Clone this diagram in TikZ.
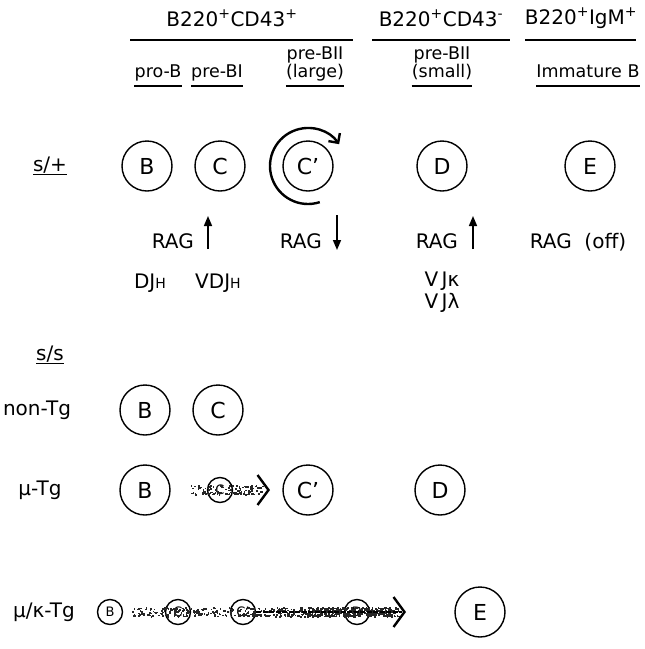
\documentclass[tikz,border=0pt]{standalone}
\usepackage{fontspec}
\setmainfont{DejaVu Sans}
\usetikzlibrary{arrows.meta}

\begin{document}
\begin{tikzpicture}[x=1pt, y=-1pt,
    cell/.style={circle, draw, line width=1.4pt, minimum size=50pt, inner sep=0pt, font=\fontsize{22}{22}\selectfont},
    minicell/.style={circle, draw, line width=1.4pt, minimum size=25pt, inner sep=0pt, font=\fontsize{13}{13}\selectfont},
    head/.style={font=\fontsize{20}{24}\selectfont, inner sep=0pt},
    stage/.style={font=\fontsize{17.5}{16.5}\selectfont, align=center, inner sep=0pt},
    rowlabel/.style={font=\fontsize{20}{22}\selectfont, inner sep=0pt},
    rag/.style={font=\fontsize{20}{22}\selectfont, inner sep=0pt},
    ragtip/.style={line width=1.6pt, -{Triangle[length=10pt, width=8pt]}},
    speck/.style={black!85},
    barb/.style={line width=2.4pt, -{Straight Barb[length=11pt, width=30pt]}},
    rule/.style={line width=2pt}]

\useasboundingbox (0,0) rectangle (645,649);
\pgfmathsetseed{17}

% headers
\node[head] (h1) at (232,18) {B220\textsuperscript{+}CD43\textsuperscript{+}};
\node[head] (h2) at (441,18) {B220\textsuperscript{+}CD43\textsuperscript{-}};
\node[head] (h3) at (581,18) {B220\textsuperscript{+}IgM\textsuperscript{+}};
\draw[rule] (130,40) -- (353,40);
\draw[rule] (372,40) -- (510,40);
\draw[rule] (525,40) -- (636,40);

% stages
\coordinate (ul) at (0,86);
\node[stage, anchor=base] (pro) at (158,77) {pro-B};
\node[stage, anchor=base] (preI) at (217,77) {pre-BI};
\node[stage, anchor=base] (preIIl) at (315,77) {pre-BII\\(large)};
\node[stage, anchor=base] (preIIs) at (442,77) {pre-BII\\(small)};
\node[stage, anchor=base] (imm) at (588,77) {Immature B};
\foreach \n in {pro, preI, preIIl, preIIs, imm}
    \draw[line width=1.4pt] (\n.west |- ul) -- (\n.east |- ul);

% s/+
\node[rowlabel] (sp) at (50,166) {\underline{s/+}};
\node[cell] (B1) at (147,166) {B};
\node[cell] (C1) at (220,166) {C};
\node[cell] (Cp1) at (308,166) {C'};
\node[cell] (D1) at (442,166) {D};
\node[cell] (E1) at (590,166) {E};
\draw[line width=2.4pt, -{Straight Barb[length=7pt, width=14pt]}] (Cp1) ++(72:38) arc[start angle=72, end angle=325, radius=38];

\node[rag, anchor=base east] (rag1) at (194,248) {RAG};
\draw[ragtip] ([xshift=14pt, yshift=-1pt]rag1.base east) -- ++(0,-33);
\node[rag, anchor=base east] (rag2) at (322,248) {RAG};
\draw[ragtip] ([xshift=15pt]rag2.base east) ++(0,-33) -- ++(0,35);
\node[rag, anchor=base east] (rag3) at (458,248) {RAG};
\draw[ragtip] ([xshift=15pt, yshift=-1pt]rag3.base east) -- ++(0,-33);
\node[rag, anchor=base] (rag4) at (578,248) {RAG\ \ (off)};

\node[rag, anchor=base] (dj) at (150,288) {DJ{\fontsize{14}{14}\selectfont H}};
\node[rag, anchor=base] (vdj) at (218,288) {VDJ{\fontsize{14}{14}\selectfont H}};
\node[rag, align=center, anchor=base] (vj) at (442,308) {V\,Jκ\\V\,Jλ};

% s/s
\node[rowlabel] (ss) at (50,355) {\underline{s/s}};

\node[rowlabel] (non) at (37,410) {non-Tg};
\node[cell] (B2) at (145,410) {B};
\node[cell] (C2) at (218,410) {C};

\node[rowlabel] (mu) at (40,490) {μ-Tg};
\node[cell] (B3) at (145,490) {B};
\node[minicell] (C3) at (220,490) {C};
\node[cell] (Cp3) at (308,490) {C'};
\node[cell] (D3) at (440,490) {D};
% grainy shaft
\coordinate (m0) at (190,490);
\coordinate (m1) at (270,490);
\foreach \i in {1,...,130}{
    \pgfmathsetmacro\px{190+rnd*72}
    \pgfmathsetmacro\py{485+rnd*9}
    \fill[speck] (\px,\py) rectangle ++(1.7,1.7);
}
\draw[barb] ([xshift=-3pt]m1) -- (m1);

\node[rowlabel] (muk) at (44,612) {μ/κ-Tg};
\node[minicell] (B4) at (110,612) {B};
\node[minicell] (C4) at (178,612) {C};
\node[minicell] (Cp4) at (243,612) {C'};
\node[minicell] (D4) at (357,612) {D};
\node[cell] (E4) at (480,612) {E};
% grainy shaft
\coordinate (k0) at (132,612);
\coordinate (k1) at (406,612);
\foreach \i in {1,...,480}{
    \pgfmathsetmacro\px{132+rnd*266}
    \pgfmathsetmacro\py{607+rnd*9}
    \fill[speck] (\px,\py) rectangle ++(1.7,1.7);
}
\foreach \i in {1,...,260}{
    \pgfmathsetmacro\px{300+rnd*98}
    \pgfmathsetmacro\py{607+rnd*9}
    \fill[speck] (\px,\py) rectangle ++(1.7,1.7);
}
\draw[line width=2pt, dash pattern=on 5pt off 1.5pt] (Cp4.east) -- ([xshift=-4pt]k1);
\draw[barb] ([xshift=-3pt]k1) -- (k1);

\end{tikzpicture}
\end{document}
